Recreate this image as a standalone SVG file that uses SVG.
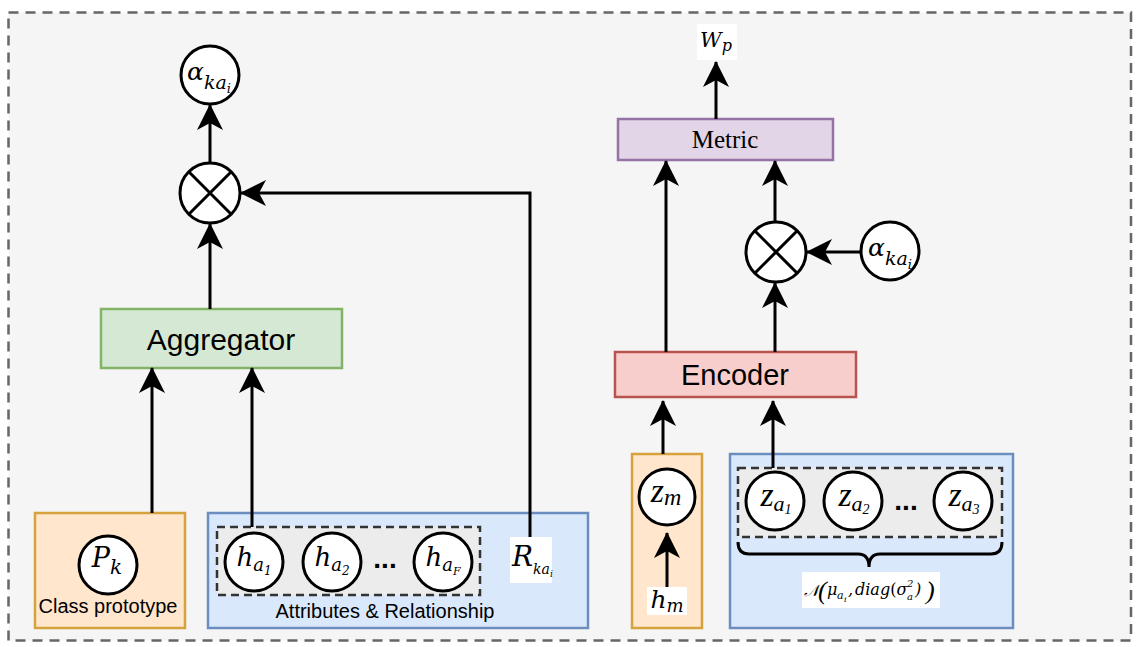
<svg xmlns="http://www.w3.org/2000/svg" width="1141" height="647" viewBox="0 0 1141 647">
<style>
.ln{fill:none;stroke:#000;stroke-width:3}
.c{fill:#fff;stroke:#000;stroke-width:3}
.m{font-family:"DejaVu Serif","Liberation Serif",serif;font-style:italic;fill:#000}
.t{font-family:"Liberation Serif","DejaVu Serif",serif;font-style:italic;fill:#000}
.mid{text-anchor:middle}
.s{font-family:"Liberation Sans",Arial,sans-serif;fill:#000}
.dash{fill:#ececec;stroke:#333;stroke-width:2.5;stroke-dasharray:8 5}
.lbl{fill:#fff}
</style>
<defs>
<marker id="ar" markerUnits="userSpaceOnUse" markerWidth="26" markerHeight="26" viewBox="0 0 26 26" refX="25" refY="13" orient="auto">
<path d="M0,0 L26,13 L0,26 L7,13 Z" fill="#000"/>
</marker>
</defs>
<rect x="8.5" y="12.5" width="1122.5" height="628" fill="#f5f5f5" stroke="#666" stroke-width="2.5" stroke-dasharray="10 7"/>

<g id="classProto">
<rect x="35" y="513" width="150" height="115" fill="#ffe6cc" stroke="#d6a23e" stroke-width="2.5"/>
<circle class="c" cx="108" cy="565" r="29"/>
<text class="m mid" x="107" y="567" font-size="27">P<tspan font-size="20" dy="7">k</tspan></text>
<text class="s" x="108" y="613" font-size="20" text-anchor="middle">Class prototype</text>
</g>

<g id="attributes">
<rect x="208" y="513" width="380" height="115" fill="#dae8fc" stroke="#6c8ebf" stroke-width="2.5"/>
<rect class="dash" x="217" y="527" width="263" height="68"/>
<circle class="c" cx="254" cy="562" r="29"/>
<text class="m mid" x="254" y="566" font-size="26">h<tspan font-size="18" dy="5">a</tspan><tspan font-size="12" dy="4">1</tspan></text>
<circle class="c" cx="332" cy="562" r="29"/>
<text class="m mid" x="332" y="566" font-size="26">h<tspan font-size="18" dy="5">a</tspan><tspan font-size="12" dy="4">2</tspan></text>
<text class="s" x="385" y="568" font-size="28" font-weight="bold" text-anchor="middle">...</text>
<circle class="c" cx="443" cy="562" r="29"/>
<text class="m mid" x="443" y="566" font-size="26">h<tspan font-size="18" dy="5">a</tspan><tspan font-size="11" dy="4">F</tspan></text>
<rect class="lbl" x="510" y="537" width="42" height="46"/>
<text class="m" x="512" y="566" font-size="28">R<tspan font-size="14" dy="8">ka</tspan><tspan font-size="9" dy="3">i</tspan></text>
<text class="s" x="385" y="618" font-size="20" text-anchor="middle">Attributes &amp; Relationship</text>
</g>

<g id="aggregator">
<rect x="101" y="309" width="241" height="59" fill="#d5e8d4" stroke="#82b366" stroke-width="2.5"/>
<text class="s" x="221" y="350" font-size="30" text-anchor="middle">Aggregator</text>
</g>

<g id="otimesLeft">
<circle class="c" cx="210" cy="193" r="30"/>
<path class="ln" d="M188.8,171.8 L231.2,214.2 M231.2,171.8 L188.8,214.2" stroke-width="2.5"/>
</g>

<g id="alphaLeft">
<circle class="c" cx="210" cy="75" r="29"/>
<text class="m mid" x="209" y="80" font-size="25">α<tspan font-size="19" dy="9">ka</tspan><tspan font-size="13" dy="4">i</tspan></text>
</g>

<g id="zmBox">
<rect x="632" y="454" width="70" height="174" fill="#ffe6cc" stroke="#d6a23e" stroke-width="2.5"/>
<circle class="c" cx="667" cy="497" r="28"/>
<text class="t mid" x="666" y="502" font-size="34">z<tspan font-size="24" dy="3">m</tspan></text>
<rect class="lbl" x="647" y="587" width="40" height="28"/>
<text class="m mid" x="667" y="608" font-size="25">h<tspan font-size="18" dy="4">m</tspan></text>
</g>

<g id="zaBox">
<rect x="730" y="454" width="283" height="174" fill="#dae8fc" stroke="#6c8ebf" stroke-width="2.5"/>
<rect class="dash" x="738" y="468" width="264" height="69"/>
<circle class="c" cx="775" cy="501" r="29"/>
<text class="t mid" x="776" y="506" font-size="34">z<tspan font-size="22" dy="5">a</tspan><tspan font-size="14" dy="3">1</tspan></text>
<circle class="c" cx="853" cy="501" r="29"/>
<text class="t mid" x="854" y="506" font-size="34">z<tspan font-size="22" dy="5">a</tspan><tspan font-size="14" dy="3">2</tspan></text>
<text class="s" x="906" y="510" font-size="28" font-weight="bold" text-anchor="middle">...</text>
<circle class="c" cx="963" cy="501" r="29"/>
<text class="t mid" x="964" y="506" font-size="34">z<tspan font-size="22" dy="5">a</tspan><tspan font-size="14" dy="3">3</tspan></text>
<path class="ln" stroke-width="2.5" d="M738,542 Q738,554 749,554 H858 Q869,554 869,567 Q869,554 880,554 H991 Q1002,554 1002,542"/>
<rect class="lbl" x="802" y="572" width="138" height="36"/>
<text class="m" x="804" y="596" font-size="16" font-style="normal">𝒩</text>
<text class="t" x="818" y="599" font-size="26" font-style="normal">(</text>
<text class="m" x="827" y="595" font-size="16">μ</text>
<text class="m" x="837" y="599" font-size="11">a</text>
<text class="m" x="844" y="602" font-size="8">i</text>
<text class="m" x="848" y="595" font-size="16" font-style="normal">,</text>
<text class="m" x="855" y="595" font-size="16">diag<tspan font-style="normal">(</tspan>σ</text>
<text class="m" x="907" y="587" font-size="10" font-style="normal">2</text>
<text class="m" x="907" y="600" font-size="10">a</text>
<text class="m" x="915" y="595" font-size="16" font-style="normal">)</text>
<text class="t" x="926" y="599" font-size="26" font-style="normal">)</text>
</g>

<g id="encoder">
<rect x="615" y="352" width="241" height="45" fill="#f8cecc" stroke="#b85450" stroke-width="2.5"/>
<text class="s" x="735" y="385" font-size="29" text-anchor="middle">Encoder</text>
</g>

<g id="otimesRight">
<circle class="c" cx="776" cy="252" r="30"/>
<path class="ln" d="M754.8,230.8 L797.2,273.2 M797.2,230.8 L754.8,273.2" stroke-width="2.5"/>
</g>

<g id="alphaRight">
<circle class="c" cx="890" cy="251" r="29"/>
<text class="m mid" x="890" y="256" font-size="25">α<tspan font-size="19" dy="9">ka</tspan><tspan font-size="13" dy="4">i</tspan></text>
</g>

<g id="metric">
<rect x="618" y="119" width="215" height="41" fill="#e1d5e7" stroke="#9673a6" stroke-width="2.5"/>
<text x="725" y="148" font-family="Liberation Serif,serif" font-size="25" text-anchor="middle">Metric</text>
</g>

<g id="wp">
<rect class="lbl" x="697" y="24" width="40" height="36"/>
<text class="m mid" x="716" y="47" font-size="21">W<tspan font-size="16" dy="4">p</tspan></text>
</g>

<g id="connectors">
<path class="ln" d="M210,163 V105" marker-end="url(#ar)"/>
<path class="ln" d="M210,309 V224" marker-end="url(#ar)"/>
<path class="ln" d="M530,537 V193 H241" marker-end="url(#ar)"/>
<path class="ln" d="M152,513 V368" marker-end="url(#ar)"/>
<path class="ln" d="M252,527 V368" marker-end="url(#ar)"/>
<path class="ln" d="M716,119 V62" marker-end="url(#ar)"/>
<path class="ln" d="M666,352 V161" marker-end="url(#ar)"/>
<path class="ln" d="M775,352 V283" marker-end="url(#ar)"/>
<path class="ln" d="M775,222 V161" marker-end="url(#ar)"/>
<path class="ln" d="M861,252 H807" marker-end="url(#ar)"/>
<path class="ln" d="M663,454 V401" marker-end="url(#ar)"/>
<path class="ln" d="M773,468 V401" marker-end="url(#ar)"/>
<path class="ln" d="M667,587 V533" marker-end="url(#ar)"/>
</g>
</svg>
